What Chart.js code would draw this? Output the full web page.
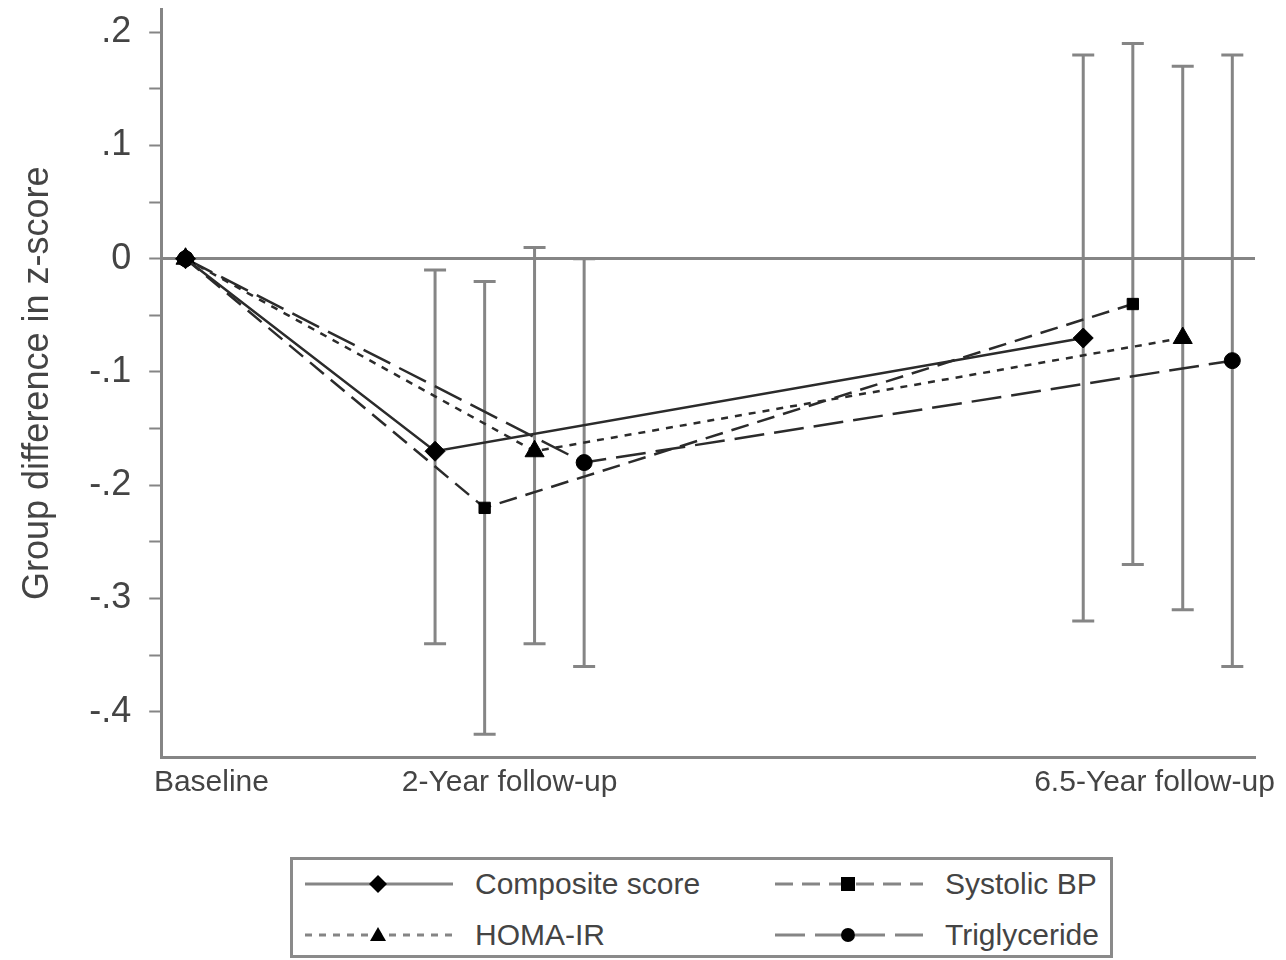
<!DOCTYPE html>
<html>
<head>
<meta charset="utf-8">
<script src="https://cdn.jsdelivr.net/npm/chart.js@4/dist/chart.umd.min.js"></script>
<style>
  html, body { margin:0; padding:0; background:#fff; }
  body { width:1286px; height:960px; position:relative; overflow:hidden; font-family:"Liberation Sans", Arial, sans-serif; }
  #wrap { position:absolute; left:0; top:-30px; width:1286px; height:854px; }
  #legend { position:absolute; left:290px; top:857px; width:817px; height:95px; border:3px solid #8a8a8a; }
  .item { position:absolute; height:40px; display:flex; align-items:center; font-size:30px; color:#444; }
  .item svg { position:absolute; left:0; top:5px; }
  .item span { position:absolute; white-space:nowrap; }
</style>
</head>
<body>
<div id="wrap"><canvas id="chart"></canvas></div>
<div id="legend"></div>
<script>
// x positions: baseline, 2-year, 6.5-year (arbitrary spacing like the figure)
const groupLabels = ["Baseline", "2-Year follow-up", "6.5-Year follow-up"];
const groupPos    = [0, 1, 3];
const labelPos    = [0.08, 1, 2.99];

const seriesNames  = ["Composite score", "Systolic BP", "HOMA-IR", "Triglyceride"];
const seriesOffset = [-0.23, -0.077, 0.077, 0.23];

// estimates at baseline, 2-year, 6.5-year
const composite    = [0, -0.17, -0.07];
const systolic     = [0, -0.22, -0.04];
const homa         = [0, -0.17, -0.07];
const triglyceride = [0, -0.18, -0.09];

// 95% CI at 2-year, 6.5-year
const compositeLow  = [-0.34, -0.32];
const compositeHigh = [-0.01, 0.18];
const systolicLow   = [-0.42, -0.27];
const systolicHigh  = [-0.02, 0.19];
const homaLow       = [-0.34, -0.31];
const homaHigh      = [0.01, 0.17];
const trigLow       = [-0.36, -0.36];
const trigHigh      = [0.00, 0.18];

const yTicks = [0.2, 0.1, 0, -0.1, -0.2, -0.3, -0.4];

const values = [composite, systolic, homa, triglyceride];
const lows   = [compositeLow, systolicLow, homaLow, trigLow];
const highs  = [compositeHigh, systolicHigh, homaHigh, trigHigh];
const dashes = [[], [18, 9], [7, 7], [30, 10]];
const shapes = ["rectRot", "rect", "triangle", "circle"];
const radius = [10, 8, 11, 8];

const LINE = "#2b2b2b";
const GRAY = "#858585";
const TEXT = "#444";

const datasets = [];

// error bars
values.forEach((v, s) => {
  for (let k = 0; k < 2; k++) {
    const x = groupPos[k + 1] + seriesOffset[s];
    datasets.push({
      data: [{ x, y: lows[s][k] }, { x, y: highs[s][k] }],
      borderColor: GRAY,
      borderWidth: 3,
      pointStyle: "line",
      pointRadius: 11,
      pointBorderWidth: 3,
      pointBorderColor: GRAY,
      order: 2
    });
  }
});

// series lines
values.forEach((v, s) => {
  datasets.push({
    label: seriesNames[s],
    data: v.map((y, i) => ({ x: i === 0 ? groupPos[0] : groupPos[i] + seriesOffset[s], y })),
    borderColor: LINE,
    borderWidth: 2.5,
    borderDash: dashes[s],
    pointStyle: shapes[s],
    pointRadius: radius[s],
    pointBackgroundColor: "#000",
    pointBorderColor: "#000",
    pointBorderWidth: 1,
    order: 1
  });
});

function fmt(v) {
  if (Math.abs(v) < 1e-9) return "0";
  const s = (Math.round(v * 10) / 10).toString();
  return s.replace("0.", ".");
}

new Chart(document.getElementById("chart"), {
  type: "line",
  data: { datasets },
  options: {
    responsive: true,
    maintainAspectRatio: false,
    animation: false,
    layout: { padding: { top: 0, right: 31, bottom: 15, left: 16 } },
    plugins: { legend: { display: false }, tooltip: { enabled: false } },
    scales: {
      x: {
        type: "linear",
        min: -0.075,
        max: 3.3,
        afterBuildTicks: scale => { scale.ticks = labelPos.map(v => ({ value: v })); },
        ticks: {
          autoSkip: false,
          maxRotation: 0,
          padding: 8,
          color: TEXT,
          font: { family: "Liberation Sans", size: 30 },
          callback: (v, i) => groupLabels[i]
        },
        grid: { display: true, color: "rgba(0,0,0,0)", drawTicks: false },
        border: { display: true, color: GRAY, width: 3 }
      },
      y: {
        type: "linear",
        min: -0.44,
        max: 0.22,
        afterBuildTicks: scale => {
          const t = [];
          yTicks.forEach(v => { t.push({ value: v }); if (v > -0.4) t.push({ value: v - 0.05 }); });
          scale.ticks = t;
        },
        ticks: {
          padding: 18,
          color: TEXT,
          font: { family: "Liberation Sans", size: 36 },
          callback: v => yTicks.some(t => Math.abs(t - v) < 1e-9) ? fmt(v) : ""
        },
        grid: {
          drawTicks: true,
          tickLength: 12,
          tickWidth: 2,
          tickColor: GRAY,
          lineWidth: 3,
          color: ctx => (ctx.tick && Math.abs(ctx.tick.value) < 1e-9) ? GRAY : "rgba(0,0,0,0)"
        },
        border: { display: true, color: GRAY, width: 3 },
        title: {
          display: true,
          text: "Group difference in z-score",
          color: TEXT,
          font: { family: "Liberation Sans", size: 36 },
          padding: { top: 0, bottom: 12 }
        }
      }
    }
  }
});

// legend box
const legendEl = document.getElementById("legend");
const cols = [{ sample: 12, text: 182 }, { sample: 482, text: 652 }];
const rows = [4, 55];
const order = [0, 1, 2, 3];
order.forEach((s, n) => {
  const col = cols[n % 2], row = rows[Math.floor(n / 2)];
  const cx = 73, cy = 15;
  let marker;
  if (shapes[s] === "rectRot") marker = `<polygon points="${cx},${cy-9} ${cx+9},${cy} ${cx},${cy+9} ${cx-9},${cy}" fill="#000"/>`;
  else if (shapes[s] === "rect") marker = `<rect x="${cx-7}" y="${cy-7}" width="14" height="14" fill="#000"/>`;
  else if (shapes[s] === "triangle") marker = `<polygon points="${cx},${cy-8} ${cx+8},${cy+6} ${cx-8},${cy+6}" fill="#000"/>`;
  else marker = `<circle cx="${cx}" cy="${cy}" r="7" fill="#000"/>`;
  const item = document.createElement("div");
  item.className = "item";
  item.style.left = col.sample + "px";
  item.style.top = row + "px";
  item.innerHTML =
    `<svg width="150" height="30"><line x1="0" y1="15" x2="148" y2="15" stroke="${GRAY}" stroke-width="3" stroke-dasharray="${dashes[s].join(" ")}"/>${marker}</svg>` +
    `<span style="left:${col.text - col.sample}px">${seriesNames[s]}</span>`;
  legendEl.appendChild(item);
});
</script>
</body>
</html>
